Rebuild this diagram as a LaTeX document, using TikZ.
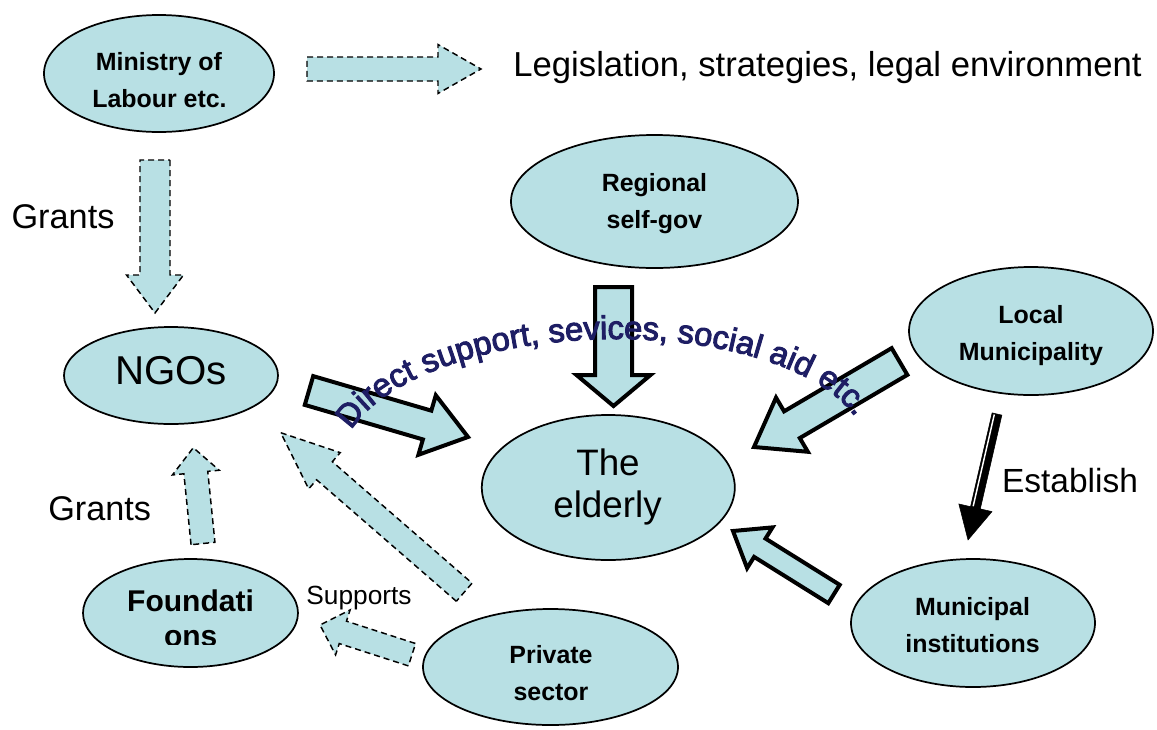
\documentclass[tikz,border=0pt]{standalone}
\usepackage{fontspec}
\setmainfont{Liberation Sans}
\newfontfamily\arcfont[FakeBold=3]{Liberation Sans}
\usetikzlibrary{shapes.geometric,calc,decorations.text}
\definecolor{cfill}{RGB}{184,224,228}
\definecolor{arcblue}{RGB}{30,30,100}

% block arrow: style, tail coordinate, tip coordinate, shaft half width, head half width, head length (px)
\newcommand\barrow[6]{%
  \path let \p1=($(#3)-(#2)$) in \pgfextra{%
    \pgfmathsetmacro\tmpang{atan2(\y1,\x1)}%
    \pgfmathsetmacro\tmplen{veclen(\x1,\y1)}%
    \global\let\baang\tmpang
    \global\let\balen\tmplen};
  \begin{scope}[shift={(#2)}, rotate=\baang, x=1pt, y=1pt]
    \pgfmathsetmacro\bs{#4*0.75}%
    \pgfmathsetmacro\bh{#5*0.75}%
    \pgfmathsetmacro\bb{\balen-#6*0.75}%
    \filldraw[#1] (0,\bs) -- (\bb,\bs) -- (\bb,\bh) -- (\balen,0) -- (\bb,-\bh) -- (\bb,-\bs) -- (0,-\bs) -- cycle;
  \end{scope}}

\tikzset{
  ell/.style 2 args={ellipse, draw=black, line width=1.3pt, fill=cfill, inner sep=0pt,
    minimum width=#1*0.75pt, minimum height=#2*0.75pt},
  btxt/.style={font=\bfseries\fontsize{18.7}{22}\selectfont, inner sep=0pt, anchor=base},
  ntxt/.style={font=\fontsize{#1}{#1}\selectfont, inner sep=0pt, anchor=base},
  solidarr/.style={fill=cfill, draw=black, line width=3pt, line join=miter},
  dasharr/.style={fill=cfill, draw=black, line width=1.1pt, dash pattern=on 4.5pt off 3pt},
}

\begin{document}
\begin{tikzpicture}[x=0.75pt, y=-0.75pt]
\useasboundingbox (0,0) rectangle (1157,729);
\fill[white] (0,0) rectangle (1157,729);

% ellipses
\node[ell={230}{117}] (min) at (159,73.5) {};
\node[ell={287}{133}] (reg) at (654.5,201.5) {};
\node[ell={214}{97}]  (ngo) at (171,375.5) {};
\node[ell={244}{128}] (loc) at (1031,331) {};
\node[ell={253}{145}] (eld) at (608.3,487.5) {};
\node[ell={244}{128}] (mun) at (973,623) {};
\node[ell={215}{108}] (fnd) at (190.5,613) {};
\node[ell={255}{116}] (prv) at (550.5,667) {};

% labels in ellipses
\node[btxt] (min1) at (159,70) {Ministry of};
\node[btxt] (min2) at (159.5,107) {Labour etc.};
\node[btxt] (reg1) at (654.5,191.7) {Regional};
\node[btxt] (reg2) at (654.5,228.3) {self-gov};
\node[btxt] (loc1) at (1031,323) {Local};
\node[btxt] (loc2) at (1031,360.5) {Municipality};
\node[btxt] (mun1) at (972.5,615) {Municipal};
\node[btxt] (mun2) at (972.5,652) {institutions};
\node[btxt] (prv1) at (551,663) {Private};
\node[btxt] (prv2) at (551,700) {sector};
\node[btxt, font=\bfseries\fontsize{22.5}{26}\selectfont] (fnd1) at (190.5,611.7) {Foundati};
\begin{scope}
  \clip (80,560) rectangle (300,644.5);
  \node[btxt, font=\bfseries\fontsize{22.5}{26}\selectfont] (fnd2) at (190.7,646.3) {ons};
\end{scope}
\node[ntxt=30.2] (ngo1) at (171,384) {NGOs};
\node[ntxt=27.6] (eld1) at (608,475) {The};
\node[ntxt=27.6] (eld2) at (607.5,517.3) {elderly};

% free labels
\node[ntxt=26] (leg) at (827.5,76) {Legislation, strategies, legal environment};
\node[ntxt=25.7] (gr1) at (63,228.3) {Grants};
\node[ntxt=25.7] (gr2) at (99.7,520) {Grants};
\node[ntxt=25.1] (est) at (1070,492) {Establish};
\node[ntxt=19.7] (sup) at (359,604) {Supports};

% arrow end points
\coordinate (legA) at (307,69);     \coordinate (legB) at (481,69);
\coordinate (g1A) at (155,160);     \coordinate (g1B) at (155,313);
\coordinate (g2A) at (203,543.5);   \coordinate (g2B) at (193.3,447.7);
\coordinate (pnA) at (464.2,592.2); \coordinate (pnB) at (280.7,432.7);
\coordinate (pfA) at (412,654.7);   \coordinate (pfB) at (320,625);
\coordinate (neA) at (309,390.5);   \coordinate (neB) at (468,437);
\coordinate (reA) at (613.5,287);   \coordinate (reB) at (613.5,406);
\coordinate (leA) at (899.5,361.5); \coordinate (leB) at (754,447);
\coordinate (meA) at (834,594);     \coordinate (meB) at (733,531);
\coordinate (esA) at (997,414);     \coordinate (esB) at (968,540);

% dashed block arrows
\barrow{dasharr}{legA}{legB}{12}{24.5}{43}
\barrow{dasharr}{g1A}{g1B}{15}{28.5}{38}
\barrow{dasharr}{g2A}{g2B}{12}{23.5}{25}
\barrow{dasharr}{pnA}{pnB}{12}{24}{58}
\barrow{dasharr}{pfA}{pfB}{11.75}{23.6}{24}

% solid block arrows
\barrow{solidarr}{neA}{neB}{15}{31}{42.6}
\barrow{solidarr}{reA}{reB}{18.5}{37}{31}
\barrow{solidarr}{leA}{leB}{15.5}{31.4}{44}
\barrow{solidarr}{meA}{meB}{10.8}{24}{31.6}

% establish arrow
\barrow{fill=black, draw=black, line width=0.4pt}{esA}{esB}{5}{17}{33}
\begin{scope}[shift={(esA)}, rotate=\baang, x=1pt, y=1pt]
  \draw[white, line width=1.1pt] (0.8,-1.9) -- ({\balen-33*0.75-0.8},-1.9);
\end{scope}

% curved text
\coordinate (arcS) at (342.6,453.1);
\begin{scope}[rotate around={1.5:(604,463.3)}]
  \path[decorate, decoration={text along path, text align=center, text color=arcblue,
      text={|\arcfont\fontsize{24.6}{28}\selectfont|Direct support, sevices, social aid etc.}}]
    (arcS) arc[start angle=185, end angle=355, x radius=262.4, y radius=117.3];
\end{scope}
\end{tikzpicture}
\end{document}
